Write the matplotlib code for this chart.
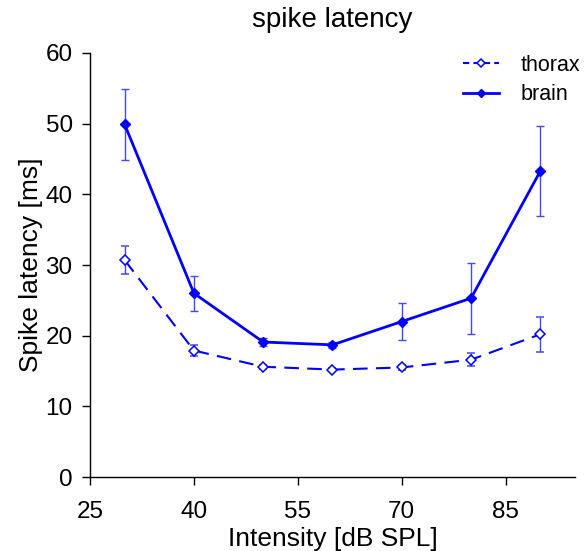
import matplotlib
matplotlib.use("Agg")
import matplotlib.pyplot as plt
from matplotlib.lines import Line2D

plt.rcParams['font.family'] = ['Liberation Sans', 'DejaVu Sans']

intensity = [30, 40, 50, 60, 70, 80, 90]
brain_mean = [49.9, 26.0, 19.1, 18.7, 22.0, 25.3, 43.3]
brain_err = [5.0, 2.5, 0.5, 0.4, 2.6, 5.0, 6.3]
thorax_mean = [30.7, 17.9, 15.6, 15.2, 15.5, 16.6, 20.2]
thorax_err = [2.0, 0.8, 0.3, 0.2, 0.3, 0.9, 2.5]
xticks = [25, 40, 55, 70, 85]
yticks = [0, 10, 20, 30, 40, 50, 60]

fig = plt.figure(figsize=(5.86, 5.51), dpi=100)
ax = fig.add_axes([90 / 586, 74 / 551, 485 / 586, 424 / 551])

blue = '#0000ff'
ebar = '#4646ff'
dash = (0, (7, 4))
ax.errorbar(intensity, thorax_mean, yerr=thorax_err, color=blue, ls=dash, lw=1.5,
            marker='D', ms=5, mfc='white', mec=blue, mew=1.1,
            ecolor=ebar, elinewidth=1.0, capsize=2.6, capthick=1.0)
ax.errorbar(intensity, brain_mean, yerr=brain_err, color=blue, ls='-', lw=2.0,
            marker='D', ms=5, mfc=blue, mec=blue,
            ecolor=ebar, elinewidth=1.0, capsize=2.6, capthick=1.0)

ax.set_xlim(25, 95)
ax.set_ylim(0, 60)
ax.set_xticks(xticks)
ax.set_yticks(yticks)
for s in ['top', 'right']:
    ax.spines[s].set_visible(False)
ax.spines['left'].set_linewidth(1.0)
ax.spines['bottom'].set_linewidth(1.0)
ax.tick_params(direction='out', length=5.5, width=1.0, labelsize=17.5)
ax.tick_params(axis='x', pad=12)
ax.tick_params(axis='y', pad=7)
ax.set_xlabel('Intensity [dB SPL]', fontsize=19, labelpad=2.5)
ax.set_ylabel('Spike latency [ms]', fontsize=19, labelpad=2)
ax.set_title('spike latency', fontsize=20, pad=19)

handles = [
    Line2D([], [], color=blue, ls=(0, (3, 2)), lw=1.5, marker='D', ms=4.5,
           mfc='white', mec=blue, mew=1.1),
    Line2D([], [], color=blue, ls='-', lw=2.0, marker='D', ms=4.5, mfc=blue, mec=blue),
]
ax.legend(handles, ['thorax', 'brain'], loc='upper left', frameon=False, fontsize=15.5,
          handlelength=1.67, handletextpad=1.0, borderpad=0, borderaxespad=0,
          labelspacing=0.38, bbox_to_anchor=(463 / 586, 1 - 55 / 551),
          bbox_transform=fig.transFigure)

fig.savefig('out.png', dpi=100)
